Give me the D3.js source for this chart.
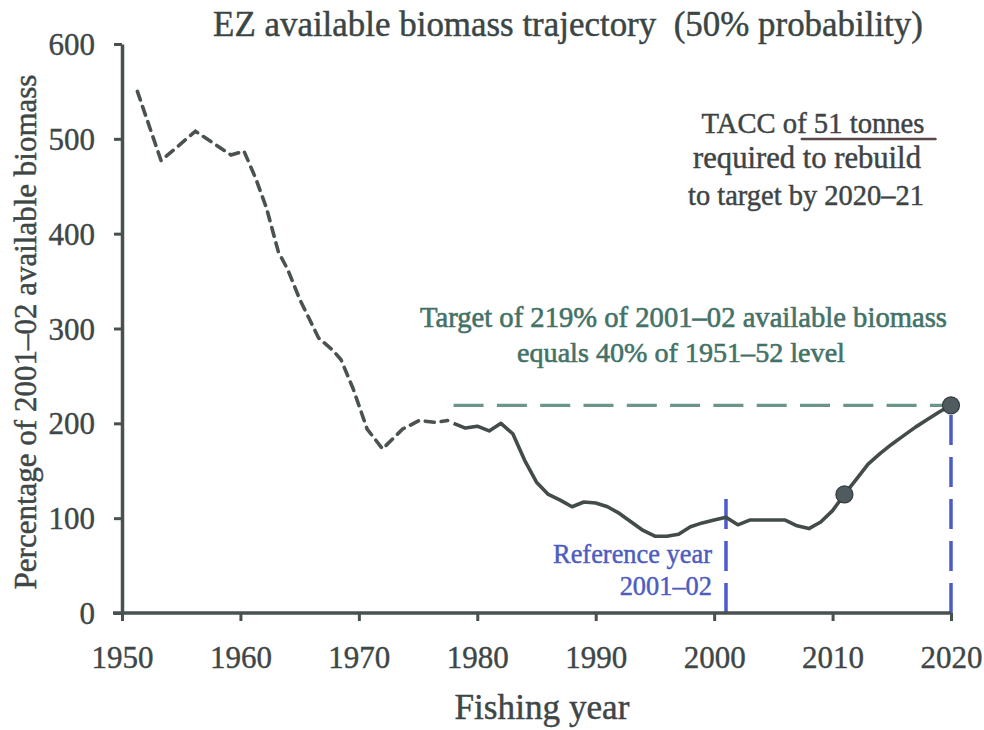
<!DOCTYPE html>
<html>
<head>
<meta charset="utf-8">
<script src="https://cdn.jsdelivr.net/npm/d3@7"></script>
<style>
  body { margin: 0; background: #fff; }
  svg { display: block; }
  text { font-family: "Liberation Serif", "DejaVu Serif", serif; }
</style>
</head>
<body>
<svg id="chart" width="984" height="730"></svg>
<script>
// historical reconstruction (dashed) and model trajectory (solid)
const histYears = [1951.3, 1953.3, 1956.2, 1959.2, 1960.3, 1961.3, 1962.2, 1963.2, 1964, 1965, 1966.6, 1967.8, 1968.5, 1969.5, 1970.7, 1972, 1973.7, 1975.1, 1976.5, 1977.5];
const histValues = [550, 477, 508, 483, 487, 458, 427, 381, 362, 331, 290, 277, 267, 237, 194, 173, 194, 203, 201, 203];

const modelYears = [1978, 1979, 1980, 1981, 1982, 1983, 1984, 1985, 1986, 1987, 1988, 1989, 1990, 1991, 1992, 1993, 1994, 1995, 1996, 1997, 1998, 1999, 2000, 2001, 2002, 2003, 2004, 2005, 2006, 2007, 2008, 2009, 2010, 2011, 2012, 2013, 2014, 2015, 2016, 2017, 2018, 2019, 2020];
const modelValues = [200, 195, 197, 192, 200, 189, 161, 138, 125, 119, 112, 117, 116, 112, 105, 96, 87, 81, 81, 83, 91, 95, 98, 101, 93, 98, 98, 98, 98, 92, 89, 96, 108, 125, 141, 157, 168, 178, 187, 196, 204, 212, 219];

const markerYears = [2011, 2020];
const markerValues = [125, 219];

const target = 219;
const targetStart = 1978;

const refYears = [2001, 2020];
const refTops = [124, 219];

const xTicks = [1950, 1960, 1970, 1980, 1990, 2000, 2010, 2020];
const yTicks = [0, 100, 200, 300, 400, 500, 600];

const svg = d3.select('#chart');

const x = d3.scaleLinear().domain([1950, 2020]).range([122, 951]);
const y = d3.scaleLinear().domain([0, 600]).range([613, 44]);

const axisColor = '#485050';
const textColor = '#3e4646';

// scale a text's font so it spans the given width
function fit(sel, w) {
    const len = sel.node().getComputedTextLength();
    const fs = parseFloat(sel.attr('font-size'));
    sel.attr('font-size', (fs * w / len).toFixed(2));
    return sel;
}

// scanned print looks a bit heavy, thicken the glyphs slightly
function heavy(sel, c, sw) {
    return sel.attr('fill', c).attr('stroke', c).attr('stroke-width', sw || 0.45);
}

// target line
svg.append('line')
    .attr('x1', x(targetStart))
    .attr('x2', x(2020))
    .attr('y1', y(target))
    .attr('y2', y(target))
    .attr('stroke', '#6a958b')
    .attr('stroke-width', 3.2)
    .attr('stroke-dasharray', '30,13.3');

// reference lines, drawn bottom up so dashes start at the axis
svg.selectAll('.ref')
    .data(refYears)
    .join('line')
    .attr('class', 'ref')
    .attr('x1', d => x(d))
    .attr('x2', d => x(d))
    .attr('y1', y(0))
    .attr('y2', (d, i) => y(refTops[i]))
    .attr('stroke', '#4b5bcb')
    .attr('stroke-width', 3.5)
    .attr('stroke-dasharray', '30,12');

// axes
const yAxis = svg.append('g')
    .attr('transform', `translate(${x(1950)},0)`)
    .call(d3.axisLeft(y).tickValues(yTicks).tickSize(8).tickSizeOuter(0).tickPadding(19));

const xAxis = svg.append('g')
    .attr('transform', `translate(0,${y(0)})`)
    .call(d3.axisBottom(x).tickValues(xTicks).tickFormat(d3.format('d')).tickSize(8).tickSizeOuter(0));

[yAxis, xAxis].forEach(g => {
    g.select('.domain').attr('stroke', axisColor).attr('stroke-width', 3.5);
    g.selectAll('.tick line').attr('stroke', axisColor).attr('stroke-width', 3);
    heavy(g.selectAll('.tick text'), textColor, 0.4)
        .attr('font-size', 31)
        .attr('font-family', '"Liberation Serif", serif');
});
xAxis.select('.domain').attr('d', `M${x.range()[0] - 9},0H${x.range()[1]}`);
yAxis.selectAll('.tick text').attr('dy', '0.34em');
xAxis.selectAll('.tick text').attr('y', 55).attr('dy', 0);

// historical dashed line
const hist = histYears.map((d, i) => [d, histValues[i]]);
const model = modelYears.map((d, i) => [d, modelValues[i]]);
const line = d3.line().x(d => x(d[0])).y(d => y(d[1]));

svg.append('path')
    .attr('d', line(hist))
    .attr('fill', 'none')
    .attr('stroke', '#4a5252')
    .attr('stroke-width', 3.6)
    .attr('stroke-linecap', 'round')
    .attr('stroke-dasharray', '9,7');

svg.append('path')
    .attr('d', line(model))
    .attr('fill', 'none')
    .attr('stroke', '#434b4b')
    .attr('stroke-width', 3.6)
    .attr('stroke-linejoin', 'round');

svg.selectAll('.marker')
    .data(markerYears)
    .join('circle')
    .attr('class', 'marker')
    .attr('cx', d => x(d))
    .attr('cy', (d, i) => y(markerValues[i]))
    .attr('r', 8.5)
    .attr('fill', '#505b60')
    .attr('stroke', '#333b3d')
    .attr('stroke-width', 1.2);

// title and axis labels
fit(heavy(svg.append('text')
    .attr('x', 568).attr('y', 36)
    .attr('text-anchor', 'middle')
    .attr('font-size', 28)
    .text('EZ available biomass trajectory\u00a0 (50% probability)'), '#3b4644'), 710);

fit(heavy(svg.append('text')
    .attr('transform', 'translate(36,332) rotate(-90)')
    .attr('text-anchor', 'middle')
    .attr('font-size', 26)
    .text('Percentage of 2001–02 available biomass'), textColor), 515);

fit(heavy(svg.append('text')
    .attr('x', 542).attr('y', 719)
    .attr('text-anchor', 'middle')
    .attr('font-size', 28)
    .text('Fishing year'), textColor), 175);

// TACC note
const tacc = [
    { t: 'TACC of 51 tonnes', cx: 813, y: 133, w: 223 },
    { t: 'required to rebuild', cx: 807, y: 168, w: 228 },
    { t: 'to target by 2020–21', cx: 806, y: 205, w: 236 }
];
const taccText = tacc.map(d => fit(heavy(svg.append('text')
    .attr('x', d.cx).attr('y', d.y)
    .attr('text-anchor', 'middle')
    .attr('font-size', 24)
    .text(d.t), '#3e4444'), d.w));

const n0 = taccText[0].node();
const i51 = tacc[0].t.indexOf('51');
const ux0 = n0.getStartPositionOfChar(i51).x - 12;
const ux1 = n0.getEndPositionOfChar(tacc[0].t.length - 1).x + 11;
svg.append('line')
    .attr('x1', ux0).attr('x2', ux1)
    .attr('y1', 139).attr('y2', 139)
    .attr('stroke', '#5a4747')
    .attr('stroke-width', 2.6)
    .attr('stroke-linecap', 'round');

// target note
const notes = [
    { t: 'Target of 219% of 2001–02 available biomass', cx: 683.5, y: 327, w: 527 },
    { t: 'equals 40% of 1951–52 level', cx: 681, y: 362, w: 328 }
];
notes.forEach(d => fit(heavy(svg.append('text')
    .attr('x', d.cx).attr('y', d.y)
    .attr('text-anchor', 'middle')
    .attr('font-size', 24)
    .text(d.t), '#437268', 0.6), d.w));

// reference year note, both lines at the size fitted to the first
const refA = fit(heavy(svg.append('text')
    .attr('x', 712).attr('y', 563)
    .attr('text-anchor', 'end')
    .attr('font-size', 22)
    .text('Reference year'), '#4d5cbf'), 159);

heavy(svg.append('text')
    .attr('x', 712).attr('y', 595)
    .attr('text-anchor', 'end')
    .attr('font-size', refA.attr('font-size'))
    .text('2001–02'), '#4d5cbf');
</script>
</body>
</html>
